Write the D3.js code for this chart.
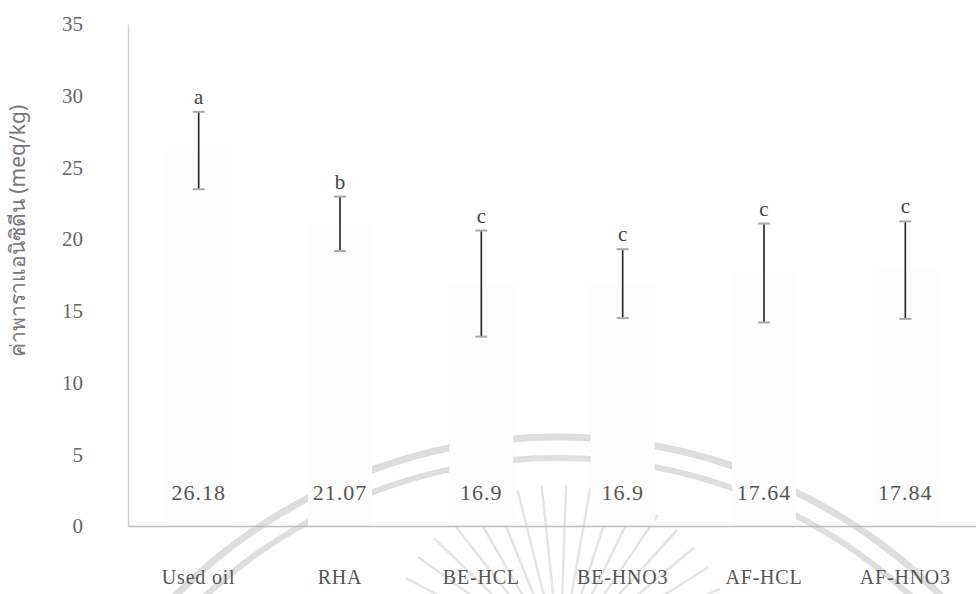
<!DOCTYPE html>
<html>
<head>
<meta charset="utf-8">
<script src="https://cdn.jsdelivr.net/npm/d3@7"></script>
<style>
  body { margin: 0; background: #fff; }
  svg { display: block; }
</style>
</head>
<body>
<div id="root"></div>
<script>
// data
const categories = ["Used oil", "RHA", "BE-HCL", "BE-HNO3", "AF-HCL", "AF-HNO3"];
const means = [26.18, 21.07, 16.9, 16.9, 17.64, 17.84];
const errors = [2.7, 1.9, 3.7, 2.4, 3.45, 3.4];
const letters = ["a", "b", "c", "c", "c", "c"];
const yTicks = [0, 5, 10, 15, 20, 25, 30, 35];
const yTitle = "ค่าพาราแอนิซิดีน (meq/kg)";

const width = 976;
const height = 594;
const margin = { top: 24, right: 0, bottom: 68, left: 128 };
const serif = "Liberation Serif, DejaVu Serif, serif";

const svg = d3.select("#root")
  .append("svg")
  .attr("width", width)
  .attr("height", height);

const x = d3.scaleBand()
  .domain(categories)
  .range([margin.left, width - margin.right]);

const y = d3.scaleLinear()
  .domain([0, 35])
  .range([height - margin.bottom, margin.top]);

// faint watermark seal in the background
const seal = svg.append("g")
  .attr("fill", "none")
  .attr("stroke", "#dedede");
seal.append("circle")
  .attr("cx", 558).attr("cy", 978).attr("r", 541)
  .attr("stroke-width", 7);
seal.append("circle")
  .attr("cx", 558).attr("cy", 978).attr("r", 520)
  .attr("stroke-width", 6);
d3.range(-160, -19, 8).forEach(a => {
  const r = a * Math.PI / 180;
  seal.append("line")
    .attr("x1", 560 + Math.cos(r) * 60).attr("y1", 660 + Math.sin(r) * 60)
    .attr("x2", 560 + Math.cos(r) * 175).attr("y2", 660 + Math.sin(r) * 175)
    .attr("stroke", "#e4e4e4")
    .attr("stroke-width", 2.5);
});

// nearly invisible bars
const barW = 64;
svg.append("g")
  .selectAll("rect")
  .data(means)
  .join("rect")
  .attr("x", (d, i) => x(categories[i]) + x.bandwidth() / 2 - barW / 2)
  .attr("y", d => y(d))
  .attr("width", barW)
  .attr("height", d => y(0) - y(d))
  .attr("fill", "#fdfdfd");

// axes
const yAxis = svg.append("g")
  .attr("transform", `translate(${margin.left},0)`)
  .call(d3.axisLeft(y).tickValues(yTicks).tickSize(0).tickPadding(45));
yAxis.attr("font-family", serif);
yAxis.select(".domain").attr("stroke", "#cfcfcf").attr("stroke-width", 1.5);
yAxis.selectAll("text")
  .attr("font-size", 21)
  .attr("fill", "#666");

const xAxis = svg.append("g")
  .attr("transform", `translate(0,${y(0)})`)
  .call(d3.axisBottom(x).tickSize(0).tickPadding(44));
xAxis.attr("font-family", serif);
xAxis.select(".domain").attr("stroke", "#bdbdbd").attr("stroke-width", 1.5);
xAxis.selectAll("text")
  .attr("font-size", 20)
  .attr("letter-spacing", 0.8)
  .attr("fill", "#555");

// error bars
const eb = svg.append("g");
means.forEach((m, i) => {
  const cx = x(categories[i]) + x.bandwidth() / 2;
  eb.append("line")
    .attr("x1", cx).attr("x2", cx)
    .attr("y1", y(m + errors[i])).attr("y2", y(m - errors[i]))
    .attr("stroke", "#222").attr("stroke-width", 1.6);
  [m + errors[i], m - errors[i]].forEach(v => {
    eb.append("line")
      .attr("x1", cx - 6).attr("x2", cx + 6)
      .attr("y1", y(v)).attr("y2", y(v))
      .attr("stroke", "#aaa").attr("stroke-width", 2);
  });
  eb.append("text")
    .attr("x", cx)
    .attr("y", y(m + errors[i]) - 8)
    .attr("text-anchor", "middle")
    .attr("font-family", serif)
    .attr("font-size", 21)
    .attr("fill", "#444")
    .text(letters[i]);
});

// value labels near the base
svg.append("g")
  .selectAll("text")
  .data(means)
  .join("text")
  .attr("x", (d, i) => x(categories[i]) + x.bandwidth() / 2)
  .attr("y", y(0) - 26)
  .attr("text-anchor", "middle")
  .attr("font-family", serif)
  .attr("font-size", 22)
  .attr("letter-spacing", 1)
  .attr("fill", "#555")
  .text(d => d);

// y axis title
svg.append("text")
  .attr("transform", `translate(25,${(y(0) + y(35)) / 2 - 44}) rotate(-90)`)
  .attr("text-anchor", "middle")
  .attr("font-family", "Noto Sans, DejaVu Sans, sans-serif")
  .attr("font-size", 21)
  .attr("fill", "#777")
  .text(yTitle);
</script>
</body>
</html>
